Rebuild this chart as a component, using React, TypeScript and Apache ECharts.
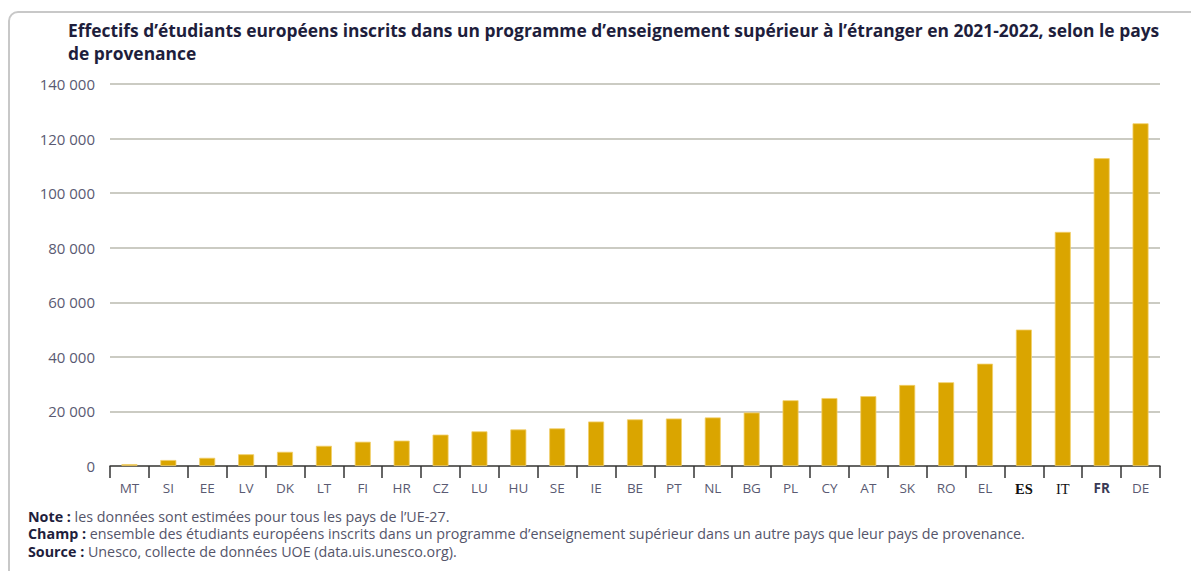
import React, { useEffect, useRef } from "react";
import * as echarts from "echarts";

const categories = ["MT","SI","EE","LV","DK","LT","FI","HR","CZ","LU","HU","SE","IE","BE","PT","NL","BG","PL","CY","AT","SK","RO","EL","ES","IT","FR","DE"];
const effectifs = [700,2200,3000,4300,5200,7400,8900,9300,11500,12700,13400,13800,16300,17100,17400,17800,19600,24100,24900,25600,29700,30700,37500,50000,85800,112800,125600];
const yTicks = { min: 0, max: 140000, interval: 20000 };

const titleText = "Effectifs d\u2019étudiants européens inscrits dans un programme d\u2019enseignement supérieur à l\u2019étranger en 2021-2022, selon le pays\nde provenance";
const noteLines = [
  ["Note :", " les données sont estimées pour tous les pays de l\u2019UE-27."],
  ["Champ :", " ensemble des étudiants européens inscrits dans un programme d\u2019enseignement supérieur dans un autre pays que leur pays de provenance."],
  ["Source :", " Unesco, collecte de données UOE (data.uis.unesco.org)."],
];

const fmt = (v: number) => {
  const s = String(Math.round(v));
  return s.replace(/\B(?=(\d{3})+(?!\d))/g, " ");
};

export default function App() {
  const ref = useRef<HTMLDivElement>(null);
  useEffect(() => {
    document.body.style.margin = "0";
    const chart = echarts.init(ref.current!, null, { renderer: "svg" });
    const font = "'Open Sans', 'Noto Sans', sans-serif";
    chart.setOption({
      animation: false,
      backgroundColor: "#ffffff",
      textStyle: { fontFamily: font },
      title: {
        text: titleText,
        left: 63,
        top: 13,
        textStyle: { fontSize: 17.4, fontWeight: "bold", color: "#1e1e3c", lineHeight: 23, fontFamily: font },
      },
      grid: { left: 110, right: 31, top: 84, bottom: 105 },
      xAxis: {
        type: "category",
        data: categories,
        axisLine: { lineStyle: { color: "#444", width: 1.5 } },
        axisTick: { show: true, length: 12, interval: 0, lineStyle: { color: "#333", width: 1.5 } },
        axisLabel: {
          interval: 0,
          margin: 15,
          fontSize: 13.5,
          color: "#5a5a72",
          formatter: (v: string) => {
            if (v === "ES") return "{es|ES}";
            if (v === "IT") return "{it|IT}";
            if (v === "FR") return "{fr|FR}";
            return v;
          },
          rich: {
            es: { fontFamily: "'Liberation Serif', serif", fontWeight: "bold", fontSize: 14.5, color: "#111" },
            it: { fontFamily: "'Liberation Serif', serif", fontSize: 14.5, color: "#111" },
            fr: { fontFamily: font, fontWeight: "bold", fontSize: 13.5, color: "#3a3a55" },
          },
        },
      },
      yAxis: {
        type: "value",
        min: yTicks.min,
        max: yTicks.max,
        interval: yTicks.interval,
        axisLine: { show: false },
        axisTick: { show: false },
        splitLine: { lineStyle: { color: "#cbcbc3", width: 2 } },
        axisLabel: { fontSize: 15, color: "#5a5a72", margin: 15, formatter: (v: number) => fmt(v) },
      },
      series: [
        {
          type: "bar",
          data: effectifs,
          barWidth: 16,
          itemStyle: { color: "#DAA500", borderColor: "#f3cf6a", borderWidth: 0.8 },
        },
      ],
      graphic: [
        {
          type: "rect",
          shape: { x: 9, y: 12, width: 1250, height: 620, r: [9, 0, 0, 0] },
          style: { fill: "none", stroke: "#c8c8c8", lineWidth: 2 },
          silent: true,
        },
        ...noteLines.map((l, i) => ({
          type: "text",
          left: 28,
          top: 509 + i * 17.8,
          style: {
            text: `{b|${l[0]}}{n|${l[1]}}`,
            rich: {
              b: { fontFamily: font, fontSize: 14.3, fontWeight: "bold", fill: "#1e1e3c" },
              n: { fontFamily: font, fontSize: 14.3, fill: "#55556a" },
            },
          },
        })),
      ],
    });
    return () => chart.dispose();
  }, []);
  return <div ref={ref} style={{ width: 1191, height: 571 }} />;
}
